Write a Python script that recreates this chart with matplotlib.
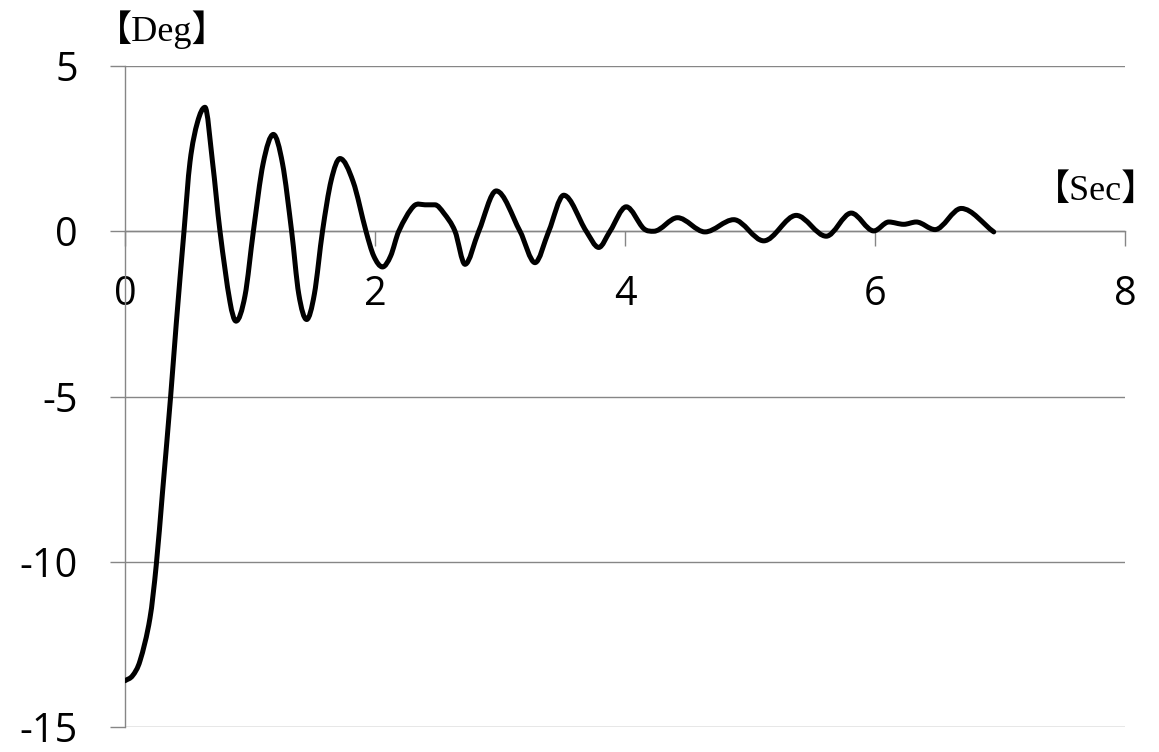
import numpy as np
import matplotlib.pyplot as plt
from matplotlib.path import Path
from matplotlib.patches import PathPatch

# roll angle response, read at the turning points and zero crossings
t_sec = [0.00, 0.06, 0.12, 0.20, 0.25, 0.30, 0.365, 0.41, 0.472, 0.52,
         0.58, 0.64, 0.70, 0.76, 0.84, 0.888, 0.96, 1.027, 1.105, 1.187,
         1.26, 1.333, 1.39, 1.453, 1.515, 1.58, 1.65, 1.72, 1.825, 1.928,
         1.99, 2.06, 2.125, 2.19, 2.31, 2.40, 2.48, 2.55, 2.64, 2.72,
         2.83, 2.97, 3.16, 3.28, 3.39, 3.51, 3.69, 3.79, 3.88, 4.01,
         4.15, 4.23, 4.42, 4.64, 4.87, 5.11, 5.37, 5.61, 5.81, 5.99,
         6.11, 6.23, 6.33, 6.48, 6.69, 6.95]
angle_deg = [-13.6, -13.45, -13.0, -11.7, -10.1, -7.9, -5.0, -2.8, 0.0, 2.1,
             3.3, 3.75, 2.1, 0.0, -2.14, -2.72, -1.95, 0.0, 2.05, 2.93,
             2.05, 0.0, -1.9, -2.67, -1.9, 0.0, 1.55, 2.2, 1.5, 0.0,
             -0.75, -1.08, -0.75, 0.0, 0.76, 0.80, 0.80, 0.55, 0.0, -1.0,
             0.0, 1.22, 0.0, -0.95, 0.0, 1.09, 0.0, -0.49, 0.0, 0.74,
             0.08, 0.0, 0.41, -0.02, 0.35, -0.29, 0.48, -0.15, 0.55, 0.01,
             0.28, 0.21, 0.28, 0.05, 0.69, -0.02]

x_ticks = [0, 2, 4, 6, 8]
y_ticks = [5, 0, -5, -10, -15]

GRID = "#868686"


def smooth_path(xs, ys):
    # smoothed line: cubic hermite pieces drawn as bezier curves,
    # flat tangents at the turning points
    x = np.asarray(xs, float)
    y = np.asarray(ys, float)
    n = len(x)
    m = np.zeros(n)
    for i in range(n):
        if i == 0:
            m[i] = (y[1] - y[0]) / (x[1] - x[0])
        elif i == n - 1:
            m[i] = (y[-1] - y[-2]) / (x[-1] - x[-2])
        elif (y[i] - y[i - 1]) * (y[i + 1] - y[i]) <= 0:
            m[i] = 0.0
        else:
            m[i] = (y[i + 1] - y[i - 1]) / (x[i + 1] - x[i - 1])
    verts = [(x[0], y[0])]
    codes = [Path.MOVETO]
    for i in range(n - 1):
        h = (x[i + 1] - x[i]) / 3.0
        verts += [(x[i] + h, y[i] + m[i] * h),
                  (x[i + 1] - h, y[i + 1] - m[i + 1] * h),
                  (x[i + 1], y[i + 1])]
        codes += [Path.CURVE4] * 3
    return Path(verts, codes)


fig = plt.figure(figsize=(11.59, 7.52), dpi=100)
ax = fig.add_axes([125 / 1159, 25 / 752, 1000 / 1159, 661 / 752])

ax.set_xlim(0, 8)
ax.set_ylim(-15, 5)

line = PathPatch(smooth_path(t_sec, angle_deg), facecolor="none",
                 edgecolor="black", lw=3.6, capstyle="round",
                 joinstyle="round", zorder=3)
ax.add_patch(line)

for s in ["top", "right"]:
    ax.spines[s].set_visible(False)
ax.spines["left"].set_color(GRID)
ax.spines["left"].set_linewidth(1.0)
ax.spines["bottom"].set_position(("data", 0))
ax.spines["bottom"].set_color(GRID)
ax.spines["bottom"].set_linewidth(1.0)

ax.set_yticks(y_ticks)
ax.set_xticks(x_ticks)
ax.yaxis.grid(True, color=GRID, lw=1.0)
ax.set_axisbelow(True)

lab_font = dict(family="Open Sans", size=28.5)
ax.set_xticklabels([str(v) for v in x_ticks], **lab_font)
ax.set_yticklabels([str(v) for v in y_ticks], **lab_font)
ax.tick_params(axis="x", direction="out", length=10.8, width=1.0,
               color=GRID, pad=20)
ax.tick_params(axis="y", direction="out", length=10.8, width=1.0,
               color=GRID, pad=23)

unit_font = ["Liberation Serif", "Noto Sans CJK JP"]
fig.text(162 / 1159, 1 - 30 / 752, "【Deg】", family=unit_font, size=26,
         ha="center", va="center")
fig.text(1158 / 1159, 1 - 191 / 752, "【Sec】", family=unit_font, size=26,
         ha="right", va="center")

fig.savefig("out.png", dpi=100, facecolor="white")
